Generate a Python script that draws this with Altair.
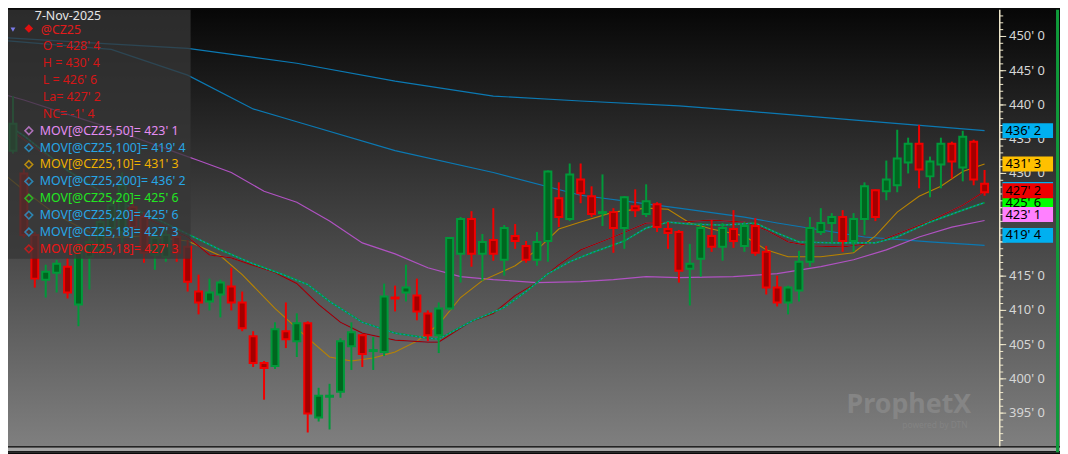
import altair as alt
import pandas as pd

# ------------------------------------------------------------------ data
idx = list(range(-1, 90))
opens = [422.76, 433.33, 430.00, 421.02, 414.49, 415.51, 416.38, 410.87, 417.83, 418.84,
         422.03, 421.45, 425.08, 423.63, 418.12, 417.83, 420.72, 419.28, 412.75, 411.30,
         412.32, 413.48, 411.16, 406.23, 402.32, 401.88, 406.96, 405.51, 408.12, 394.35,
         397.39, 398.12, 404.78, 406.38, 404.06, 403.91, 411.88, 412.61, 412.17, 409.56,
         406.38, 410.29, 418.26, 423.33, 418.26, 420.29, 417.39, 420.87, 419.42, 417.39,
         420.14, 426.38, 423.33, 429.13, 426.67, 424.20, 424.35, 422.03, 425.22, 424.06,
         425.51, 421.88, 421.45, 416.09, 417.54, 420.87, 419.28, 421.88, 419.42, 422.32,
         418.55, 413.33, 411.16, 412.90, 417.10, 421.45, 422.76, 423.63, 420.14, 423.33,
         427.54, 427.39, 428.27, 431.59, 434.35, 429.57, 431.30, 434.35, 430.87, 434.64,
         428.50]
highs = [434.78, 441.30, 430.72, 421.45, 416.67, 417.39, 417.68, 420.29, 420.87, 423.92,
         426.38, 430.14, 426.38, 424.35, 421.74, 422.03, 421.74, 420.29, 415.22, 414.64,
         414.49, 416.23, 412.75, 406.96, 402.61, 408.26, 411.16, 409.57, 408.41, 398.70,
         399.28, 405.94, 408.26, 406.52, 406.09, 413.91, 413.62, 416.67, 414.64, 410.00,
         411.16, 420.72, 423.63, 424.49, 421.16, 424.93, 422.46, 422.61, 420.14, 421.45,
         430.43, 428.70, 431.45, 431.45, 428.12, 429.86, 424.93, 426.67, 427.68, 428.41,
         425.80, 422.90, 421.74, 419.71, 422.76, 423.19, 422.76, 424.64, 422.90, 423.48,
         419.42, 415.07, 413.62, 418.70, 423.63, 424.93, 424.20, 424.64, 424.20, 428.70,
         427.68, 431.88, 436.38, 435.22, 437.10, 432.46, 435.22, 434.64, 436.23, 434.93,
         430.50]
lows = [422.03, 432.90, 420.58, 413.33, 411.88, 412.61, 411.74, 407.69, 413.04, 417.97,
        421.02, 419.86, 421.45, 416.96, 415.94, 417.10, 417.10, 412.75, 409.42, 410.00,
        408.98, 410.00, 406.96, 401.74, 396.96, 401.45, 404.50, 403.19, 392.17, 393.77,
        392.61, 397.25, 401.30, 401.74, 401.30, 403.33, 409.85, 411.30, 408.55, 405.51,
        403.77, 410.00, 414.06, 416.38, 414.35, 417.25, 415.07, 418.99, 416.96, 416.52,
        417.10, 422.18, 423.04, 425.65, 423.63, 422.32, 418.41, 418.99, 423.63, 423.63,
        421.45, 418.99, 414.06, 410.72, 414.93, 418.55, 417.25, 419.13, 418.55, 417.97,
        412.32, 410.58, 409.42, 411.30, 416.38, 421.02, 419.86, 418.55, 418.55, 421.02,
        423.04, 426.09, 427.25, 430.00, 427.83, 426.52, 427.83, 429.28, 428.84, 428.27,
        426.75]
closes = [433.77, 437.25, 421.02, 414.64, 415.65, 416.81, 412.61, 419.13, 420.00, 422.90,
          425.37, 428.27, 422.18, 418.41, 420.58, 421.02, 418.41, 414.20, 411.16, 412.61,
          414.06, 411.16, 407.39, 402.32, 401.59, 407.25, 405.80, 408.12, 394.93, 397.54,
          397.54, 405.51, 406.81, 403.62, 404.20, 412.03, 411.74, 413.33, 409.85, 406.38,
          410.29, 420.58, 423.33, 418.26, 420.00, 418.26, 422.03, 420.14, 417.39, 420.00,
          430.29, 423.63, 429.86, 427.10, 424.06, 424.35, 422.03, 426.52, 424.64, 425.94,
          422.18, 421.30, 415.80, 416.81, 422.03, 419.28, 422.03, 420.14, 422.32, 418.41,
          413.33, 411.16, 413.33, 417.10, 422.03, 422.76, 423.63, 420.14, 423.33, 428.12,
          423.63, 429.13, 432.17, 434.35, 430.58, 431.74, 434.35, 431.74, 435.36, 429.13,
          427.25]

ma200_idx = [-1, 8, 16, 26, 35, 44, 52, 61, 67, 78, 89]
ma200_val = [449.86, 448.99, 448.26, 446.09, 443.48, 441.30, 440.58, 439.86, 439.13, 437.68, 436.25]

ma100_idx = [-1, 9, 16, 22, 26, 35, 44, 52, 61, 67, 70, 78, 84, 89]
ma100_val = [449.42, 448.12, 444.35, 439.42, 437.54, 433.33, 430.14, 426.81, 424.93, 423.63,
             422.76, 420.72, 420.00, 419.50]

ma50_idx = [-1, 1, 8, 16, 17, 20, 23, 26, 29, 32, 35, 38, 41, 44, 48, 52, 55, 58, 61, 66,
            70, 74, 77, 80, 83, 86, 89]
ma50_val = [441.59, 440.72, 437.10, 432.46, 431.88, 430.14, 427.39, 425.80, 423.04, 419.86,
            418.26, 416.23, 414.93, 414.49, 414.06, 414.20, 414.49, 414.93, 414.78, 414.93,
            415.36, 416.38, 417.39, 418.84, 420.72, 422.17, 423.125]

ma10_idx = [-1, 1, 4, 8, 12, 16, 19, 21, 24, 27, 29, 31, 33, 35, 37, 39, 41, 43, 46, 48,
            50, 52, 55, 58, 60, 62, 64, 67, 69, 71, 74, 77, 79, 81, 83, 85, 87, 89]
ma10_val = [430.14, 427.54, 423.92, 420.58, 420.87, 420.14, 417.97, 415.22, 410.29, 405.94,
            403.19, 402.61, 403.04, 403.91, 405.51, 407.97, 411.88, 414.35, 416.52, 418.84,
            421.88, 422.90, 424.35, 424.93, 424.78, 422.75, 421.88, 420.87, 418.84, 417.83,
            417.83, 418.41, 420.87, 424.35, 426.67, 428.12, 430.29, 431.375]

ma20_idx = [0, 1, 5, 9, 13, 16, 19, 22, 25, 27, 29, 32, 35, 38, 39, 42, 45, 47, 49, 51,
            53, 56, 58, 60, 62, 65, 68, 70, 72, 75, 79, 81, 84, 87, 89]
ma20_val = [436.52, 435.51, 430.43, 426.38, 423.48, 421.16, 418.84, 416.81, 415.07, 413.77,
            411.30, 408.26, 406.67, 405.94, 405.80, 408.41, 410.43, 412.75, 415.36, 417.10,
            418.41, 420.14, 422.03, 422.90, 422.61, 422.46, 422.75, 421.30, 420.00, 419.86,
            419.86, 420.72, 422.90, 424.64, 425.75]

ma18_idx = [0, 5, 9, 13, 16, 18, 20, 24, 26, 28, 30, 32, 35, 38, 39, 42, 44, 46, 48, 50,
            52, 55, 58, 61, 64, 67, 69, 71, 73, 76, 79, 81, 84, 87, 89]
ma18_val = [436.09, 430.43, 426.09, 422.90, 420.72, 418.12, 417.68, 415.51, 413.91, 410.87,
            408.26, 406.67, 405.65, 405.36, 405.36, 408.41, 409.57, 412.17, 414.06, 416.67,
            418.84, 420.72, 422.75, 422.90, 423.19, 422.90, 421.74, 420.00, 419.42, 419.28,
            419.86, 421.16, 423.04, 425.36, 427.375]

tick_major = [395, 400, 405, 410, 415, 420, 425, 430, 435, 440, 445, 450]
tick_labels = ["395' 0", "400' 0", "405' 0", "410' 0", "415' 0", "420' 0", "425' 0",
               "430' 0", "435' 0", "440' 0", "445' 0", "450' 0"]
tick_minor = list(range(391, 454))

date_label = "7-Nov-2025"
legend_text = ["@CZ25", "O = 428' 4", "H = 430' 4", "L = 426' 6", "La= 427' 2", "NC= -1' 4",
               "MOV[@CZ25,50]= 423' 1", "MOV[@CZ25,100]= 419' 4", "MOV[@CZ25,10]= 431' 3",
               "MOV[@CZ25,200]= 436' 2", "MOV[@CZ25,20]= 425' 6", "MOV[@CZ25,20]= 425' 6",
               "MOV[@CZ25,18]= 427' 3", "MOV[@CZ25,18]= 427' 3"]
legend_colors = ["#e21b1b", "#d41616", "#d41616", "#d41616", "#d41616", "#d41616",
                 "#e38cf2", "#27a6e6", "#efb000", "#27a6e6", "#22e622", "#27a6e6",
                 "#27a6e6", "#ee1414"]

tag_vals = [431.375, 436.25, 425.75, 427.375, 427.25, 423.125, 419.5]
tag_text = ["431' 3", "436' 2", "425' 6", "", "427' 2", "423' 1", "419' 4"]
tag_colors = ["#ffc000", "#00b0f0", "#00ff00", "#00b0f0", "#ee0000", "#ff80ff", "#00b0f0"]

# ------------------------------------------------------------------ style / layout
W, H = 1060, 446
PLOT_H = 440
PX_PER_PT = 6.9
tag_shift_px = [0, 0, 0, -2, -1.5, -6, -10]
hidden_tick_labels = {420, 425}   # fully covered by the value tags in the reference
FONT = "Noto Sans"

xs = alt.Scale(domain=[-0.4545, 95.909], nice=False, zero=False)
ys = alt.Scale(domain=[389.275, 453.913], nice=False, zero=False)
pxs = alt.Scale(domain=[0, W], range=[0, W], nice=False, zero=False)
pys = alt.Scale(domain=[0, H], range=[0, H], nice=False, zero=False)

one = pd.DataFrame({"a": [0]})
layers = []

# background gradient
bg_grad = alt.Gradient(
    gradient="linear",
    stops=[alt.GradientStop(color="#070707", offset=0),
           alt.GradientStop(color="#7f7f7f", offset=1)],
    x1=0, x2=0, y1=0, y2=1)
layers.append(alt.Chart(one).mark_rect(color=bg_grad).encode(
    x=alt.value(0), x2=alt.value(W), y=alt.value(0), y2=alt.value(PLOT_H)))
layers.append(alt.Chart(one).mark_rect(color="#a4a4a4").encode(
    x=alt.value(0), x2=alt.value(W), y=alt.value(PLOT_H), y2=alt.value(H)))
layers.append(alt.Chart(one).mark_rule(color="#050505", strokeWidth=1.3).encode(
    x=alt.value(0), x2=alt.value(W), y=alt.value(PLOT_H + 0.6)))
layers.append(alt.Chart(one).mark_rect(color="#1a1a1a").encode(
    x=alt.value(0), x2=alt.value(W), y=alt.value(444.6), y2=alt.value(H)))

# watermark
layers.append(alt.Chart(one).mark_text(
    text="ProphetX", font=FONT, fontSize=27, fontWeight="bold", color="#858585",
    align="left", baseline="alphabetic").encode(x=alt.value(845), y=alt.value(406)))
layers.append(alt.Chart(one).mark_text(
    text="powered by DTN", font=FONT, fontSize=8.5, color="#838383",
    align="right", baseline="alphabetic").encode(x=alt.value(967), y=alt.value(421)))


def ma_layer(ix, vals, color, width, dash=None):
    d = pd.DataFrame({"i": ix, "p": vals})
    kw = dict(color=color, strokeWidth=width)
    if dash is not None:
        kw["strokeDash"] = dash
    return alt.Chart(d).mark_line(**kw).encode(
        x=alt.X("i:Q", scale=xs, axis=None),
        y=alt.Y("p:Q", scale=ys, axis=None))


layers.append(ma_layer(ma200_idx, ma200_val, "#0b79b3", 1.2))
layers.append(ma_layer(ma100_idx, ma100_val, "#0b79b3", 1.2))
layers.append(ma_layer(ma50_idx, ma50_val, "#b052c2", 1.2))
layers.append(ma_layer(ma10_idx, ma10_val, "#b88300", 1.1))
layers.append(ma_layer(ma18_idx, ma18_val, "#1a8fc8", 1.2))
layers.append(ma_layer(ma18_idx, ma18_val, "#a30000", 1.3))
layers.append(ma_layer(ma20_idx, ma20_val, "#009a3e", 1.8))
layers.append(ma_layer(ma20_idx, ma20_val, "#1a8ac0", 1.1, [2, 2]))

# candles
df = pd.DataFrame({"i": idx, "o": opens, "h": highs, "l": lows, "c": closes})
df["dir"] = ["up" if c >= o else "down" for o, c in zip(df.o, df.c)]
df["x1"] = df.i - 0.318
df["x2"] = df.i + 0.318
line_scale = alt.Scale(domain=["up", "down"], range=["#00993a", "#f20000"])
fill_scale = alt.Scale(domain=["up", "down"], range=["#00661f", "#a30000"])
layers.append(alt.Chart(df).mark_rule(strokeWidth=2).encode(
    x=alt.X("i:Q", scale=xs, axis=None),
    y=alt.Y("l:Q", scale=ys, axis=None), y2="h:Q",
    color=alt.Color("dir:N", scale=line_scale, legend=None)))
layers.append(alt.Chart(df).mark_rect(strokeWidth=2).encode(
    x=alt.X("x1:Q", scale=xs, axis=None), x2="x2:Q",
    y=alt.Y("o:Q", scale=ys, axis=None), y2="c:Q",
    fill=alt.Fill("dir:N", scale=fill_scale, legend=None),
    stroke=alt.Stroke("dir:N", scale=line_scale, legend=None)))

# legend panel
layers.append(alt.Chart(one).mark_rect(color="#373737", opacity=0.77).encode(
    x=alt.value(0), x2=alt.value(184), y=alt.value(0), y2=alt.value(251)))
layers.append(alt.Chart(one).mark_text(
    text=date_label, font=FONT, fontSize=12.5, color="#e6e6e6",
    align="left", baseline="alphabetic").encode(x=alt.value(27), y=alt.value(10)))

rows_y = [20] + [37 + 17 * k for k in range(len(legend_text) - 1)]
rows_x = [33, 35, 35, 35, 35, 35] + [32] * 8
leg = pd.DataFrame({"t": legend_text, "col": legend_colors, "px": rows_x, "py": rows_y})
layers.append(alt.Chart(leg).mark_text(
    font=FONT, fontSize=12.5, align="left", baseline="middle").encode(
    x=alt.X("px:Q", scale=pxs, axis=None),
    y=alt.Y("py:Q", scale=pys, axis=None),
    text="t:N", color=alt.Color("col:N", scale=None)))
icons = leg.iloc[6:].copy()
icons["ix"] = 21
layers.append(alt.Chart(icons).mark_point(
    shape="diamond", filled=False, size=60, strokeWidth=1.6).encode(
    x=alt.X("ix:Q", scale=pxs, axis=None),
    y=alt.Y("py:Q", scale=pys, axis=None),
    color=alt.Color("col:N", scale=None)))
layers.append(alt.Chart(one).mark_point(
    shape="diamond", filled=True, size=75, color="#e01010", opacity=1).encode(
    x=alt.value(21), y=alt.value(19)))
layers.append(alt.Chart(one).mark_point(
    shape="triangle-down", filled=True, size=24, color="#7b7bea", opacity=1).encode(
    x=alt.value(5), y=alt.value(20)))

# right price axis
AX = 999.3
layers.append(alt.Chart(one).mark_rule(color="#efe8cc", strokeWidth=1.5).encode(
    x=alt.value(AX), y=alt.value(0), y2=alt.value(PLOT_H)))
layers.append(alt.Chart(pd.DataFrame({"v": tick_minor})).mark_rule(
    color="#efe8cc", strokeWidth=1).encode(
    y=alt.Y("v:Q", scale=ys, axis=None), x=alt.value(AX), x2=alt.value(AX + 3.5)))
tk = pd.DataFrame({"v": tick_major, "lab": tick_labels})
layers.append(alt.Chart(tk).mark_rule(color="#efe8cc", strokeWidth=1).encode(
    y=alt.Y("v:Q", scale=ys, axis=None), x=alt.value(AX), x2=alt.value(AX + 6.5)))
tk_vis = tk[~tk.v.isin(hidden_tick_labels)]
layers.append(alt.Chart(tk_vis).mark_text(
    font=FONT, fontSize=13, color="#d6d6d6", align="left", baseline="middle").encode(
    y=alt.Y("v:Q", scale=ys, axis=None), x=alt.value(1008.7), text="lab:N"))

# value tags
HALF = 7.5 / PX_PER_PT
for v, t, col, sh in zip(tag_vals, tag_text, tag_colors, tag_shift_px):
    mid = v - sh / PX_PER_PT
    d = pd.DataFrame({"lo": [mid - HALF], "hi": [mid + HALF], "mid": [mid], "t": [t]})
    layers.append(alt.Chart(d).mark_rect(color=col).encode(
        x=alt.value(1002), x2=alt.value(1053),
        y=alt.Y("lo:Q", scale=ys, axis=None), y2="hi:Q"))
    if t:
        layers.append(alt.Chart(d).mark_text(
            font=FONT, fontSize=13, color="#000000", align="left", baseline="middle").encode(
            x=alt.value(1005), y=alt.Y("mid:Q", scale=ys, axis=None), text="t:N"))

# frame border (right)
layers.append(alt.Chart(one).mark_rule(color="#0f9a3a", strokeWidth=3).encode(
    x=alt.value(1057.5), y=alt.value(0), y2=alt.value(H)))

chart = (
    alt.layer(*layers)
    .resolve_scale(x="independent", y="independent", color="independent")
    .properties(width=W, height=H, padding=0, autosize=alt.AutoSizeParams(type="none"),
                background="#0a0a0a")
    .configure_view(strokeWidth=0)
)

chart.save("out.html", embed_options={"renderer": "svg", "actions": False})
